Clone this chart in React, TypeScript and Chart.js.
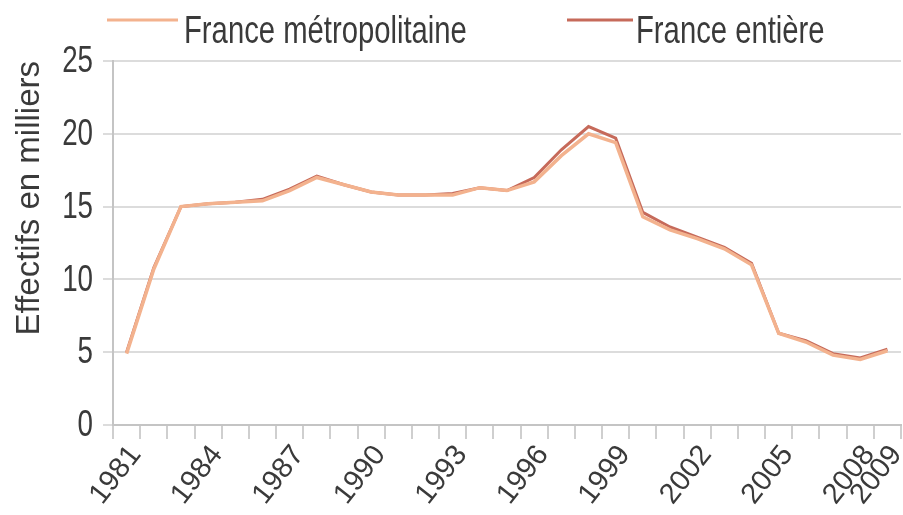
import React, { useEffect, useRef } from "react";
import { Chart, registerables } from "chart.js";

Chart.register(...registerables);

const years: string[] = [
  "1981", "1982", "1983", "1984", "1985", "1986", "1987", "1988", "1989", "1990",
  "1991", "1992", "1993", "1994", "1995", "1996", "1997", "1998", "1999", "2000",
  "2001", "2002", "2003", "2004", "2005", "2006", "2007", "2008", "2009",
];

const franceMetro: number[] = [
  4.9, 10.7, 15.0, 15.2, 15.3, 15.4, 16.1, 17.0, 16.5, 16.0,
  15.8, 15.8, 15.8, 16.3, 16.1, 16.7, 18.5, 20.0, 19.4, 14.3,
  13.4, 12.8, 12.1, 11.0, 6.3, 5.7, 4.8, 4.5, 5.1,
];

const franceEntiere: number[] = [
  5.0, 10.8, 15.0, 15.2, 15.3, 15.5, 16.2, 17.1, 16.5, 16.0,
  15.8, 15.8, 15.9, 16.3, 16.1, 17.0, 18.9, 20.5, 19.7, 14.6,
  13.6, 12.9, 12.2, 11.1, 6.3, 5.8, 4.9, 4.6, 5.2,
];

const yTicks: number[] = [0, 5, 10, 15, 20, 25];
const shownYears: string[] = ["1981", "1984", "1987", "1990", "1993", "1996", "1999", "2002", "2005", "2008", "2009"];

const seriesNames: string[] = ["France métropolitaine", "France entière"];
const seriesColors: string[] = ["#f3b28e", "#c66a5a"];

const FONT = "'Liberation Sans', Arial, sans-serif";
const TEXT = "#3a3a3a";
const SQUEEZE = 0.75;

const textPlugin = {
  id: "condensedText",
  afterDraw(chart: any) {
    const ctx = chart.ctx as CanvasRenderingContext2D;
    const area = chart.chartArea;
    const yScale = chart.scales.y;
    ctx.save();
    ctx.fillStyle = TEXT;
    // y tick labels (condensed)
    ctx.font = `37px ${FONT}`;
    ctx.textAlign = "right";
    ctx.textBaseline = "middle";
    yTicks.forEach((v) => {
      const py = yScale.getPixelForValue(v);
      ctx.save();
      ctx.translate(area.left - 20, py + 1);
      ctx.scale(SQUEEZE, 1);
      ctx.fillText(String(v), 0, 0);
      ctx.restore();
    });
    // legend
    const legendItems = [
      { lineX: area.left - 6, lineW: 71, textX: area.left + 71 },
      { lineX: area.left + 454, lineW: 66, textX: area.left + 523 },
    ];
    legendItems.forEach((it, i) => {
      ctx.save();
      ctx.strokeStyle = seriesColors[i];
      ctx.lineWidth = 3;
      ctx.beginPath();
      ctx.moveTo(it.lineX, 20);
      ctx.lineTo(it.lineX + it.lineW, 20);
      ctx.stroke();
      ctx.fillStyle = TEXT;
      ctx.font = `39px ${FONT}`;
      ctx.textAlign = "left";
      ctx.textBaseline = "alphabetic";
      ctx.translate(it.textX, 43);
      ctx.scale(SQUEEZE, 1);
      ctx.fillText(seriesNames[i], 0, 0);
      ctx.restore();
    });
    ctx.restore();
  },
};

export default function App() {
  const ref = useRef<HTMLCanvasElement | null>(null);

  useEffect(() => {
    document.body.style.margin = "0";
    const ctx = ref.current;
    if (!ctx) return;
    const chart = new Chart(ctx, {
      type: "line",
      data: {
        labels: years,
        datasets: [
          {
            label: seriesNames[0],
            data: franceMetro,
            borderColor: seriesColors[0],
            backgroundColor: seriesColors[0],
            borderWidth: 3.5,
            pointRadius: 0,
            tension: 0,
          },
          {
            label: seriesNames[1],
            data: franceEntiere,
            borderColor: seriesColors[1],
            backgroundColor: seriesColors[1],
            borderWidth: 3,
            pointRadius: 0,
            tension: 0,
          },
        ],
      },
      plugins: [textPlugin],
      options: {
        animation: false,
        responsive: false,
        maintainAspectRatio: false,
        layout: { padding: { left: 0, right: 2, top: 61, bottom: 0 } },
        plugins: {
          legend: { display: false },
          tooltip: { enabled: false },
        },
        scales: {
          x: {
            offset: true,
            afterFit: (scale: any) => {
              scale.height = 90;
              scale.paddingRight = 0;
              scale.paddingLeft = 0;
            },
            grid: {
              display: true,
              offset: true,
              drawOnChartArea: false,
              drawTicks: true,
              tickLength: 14,
              color: "#cfcfcf",
              lineWidth: 2,
            },
            border: { display: true, color: "#c4c4c4", width: 2 },
            ticks: {
              autoSkip: false,
              maxRotation: 52,
              minRotation: 52,
              labelOffset: 9,
              color: TEXT,
              font: { family: FONT, size: 29 },
              padding: 0,
              callback: function (value: any, index: number) {
                return shownYears.indexOf(years[index]) >= 0 ? years[index] : "";
              },
            },
          },
          y: {
            min: 0,
            max: 25,
            afterFit: (scale: any) => {
              scale.width = 113;
              scale.paddingTop = 0;
              scale.paddingBottom = 0;
            },
            afterBuildTicks: (scale: any) => {
              scale.ticks = yTicks.map((v) => ({ value: v }));
            },
            grid: {
              color: "#dcdcdc",
              lineWidth: 2,
              drawTicks: true,
              tickLength: 10,
            },
            border: { display: true, color: "#c4c4c4", width: 2 },
            title: {
              display: true,
              text: "Effectifs en milliers",
              align: "end",
              color: TEXT,
              font: { family: FONT, size: 33 },
              padding: { top: 10, bottom: 0 },
            },
            ticks: { display: false },
          },
        },
      },
    });
    return () => chart.destroy();
  }, []);

  return (
    <div style={{ width: 903, height: 515 }}>
      <canvas ref={ref} width={903} height={515} style={{ width: 903, height: 515, display: "block" }} />
    </div>
  );
}
